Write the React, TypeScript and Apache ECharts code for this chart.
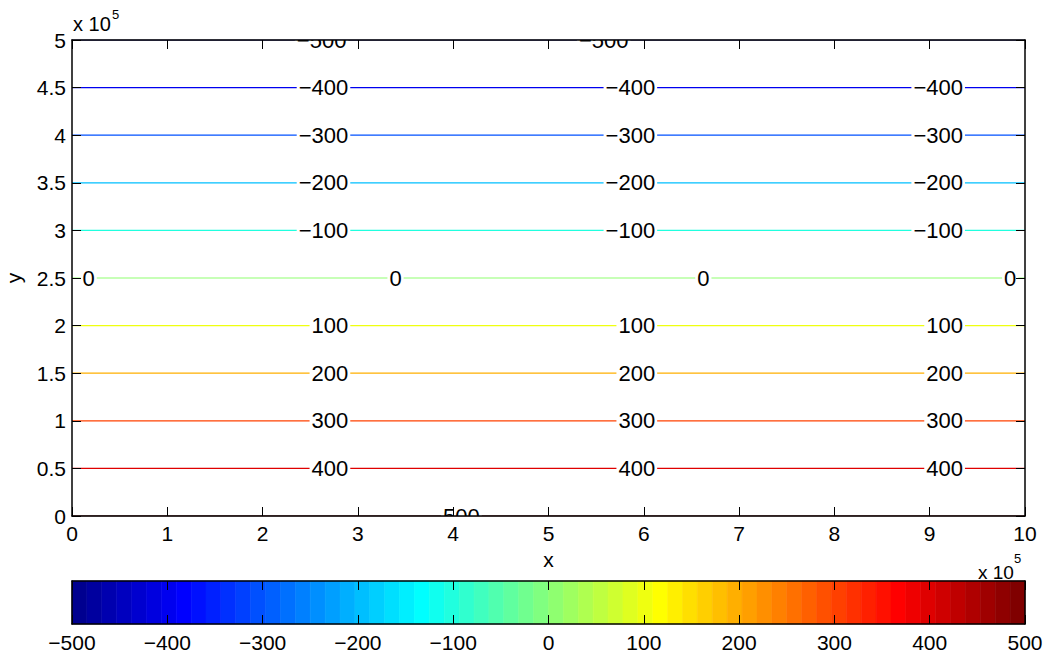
import React, { useEffect, useRef } from "react";
import * as echarts from "echarts";

// ---- data ----
// contour levels and the y position (x 1e5) where each level's line lies
const contourLevels = [500, 400, 300, 200, 100, 0, -100, -200, -300, -400, -500];
const contourY = [0, 0.5, 1, 1.5, 2, 2.5, 3, 3.5, 4, 4.5, 5];
// inline labels: level and x position of the label's right edge (x 1e5)
const labelLevel = [
  -500, -500,
  -400, -400, -400,
  -300, -300, -300,
  -200, -200, -200,
  -100, -100, -100,
  0, 0, 0, 0,
  100, 100, 100,
  200, 200, 200,
  300, 300, 300,
  400, 400, 400,
  500,
];
const labelX = [
  2.9, 5.86,
  2.92, 6.14, 9.37,
  2.92, 6.14, 9.37,
  2.92, 6.14, 9.37,
  2.92, 6.14, 9.37,
  0.26, 3.48, 6.71, 9.93,
  2.92, 6.14, 9.37,
  2.92, 6.14, 9.37,
  2.92, 6.14, 9.37,
  2.92, 6.14, 9.37,
  4.3,
];
const xTicks = [0, 10]; // x range, x 1e5
const yTicks = [0, 5]; // y range, x 1e5
const cbarRange = [-500, 500];
const cbarSteps = 64;

const FONT = "'Liberation Sans', Arial, Helvetica, sans-serif";

function matlabJet(m: number): number[][] {
  const n = Math.ceil(m / 4);
  const u: number[] = [];
  for (let i = 1; i <= n; i++) u.push(i / n);
  for (let i = 1; i <= n - 1; i++) u.push(1);
  for (let i = n; i >= 1; i--) u.push(i / n);
  const gStart = Math.ceil(n / 2) - (m % 4 === 1 ? 1 : 0);
  const J = Array.from({ length: m }, () => [0, 0, 0]);
  for (let k = 0; k < u.length; k++) {
    const g = gStart + k + 1;
    const r = g + n;
    const b = g - n;
    if (r >= 1 && r <= m) J[r - 1][0] = u[k];
    if (g >= 1 && g <= m) J[g - 1][1] = u[k];
    if (b >= 1 && b <= m) J[b - 1][2] = u[k];
  }
  return J;
}
const JET = matlabJet(cbarSteps);
const jetColor = (i: number) => {
  const c = JET[Math.max(0, Math.min(cbarSteps - 1, i))];
  return `rgb(${Math.round(c[0] * 255)},${Math.round(c[1] * 255)},${Math.round(c[2] * 255)})`;
};
const levelColor = (v: number) =>
  jetColor(Math.floor(((v - cbarRange[0]) / (cbarRange[1] - cbarRange[0])) * cbarSteps));
const fmtNum = (v: number) => (v < 0 ? "\u2212" + String(-v) : String(v));

export default function App() {
  const ref = useRef<HTMLDivElement>(null);
  useEffect(() => {
    if (!ref.current) return;
    const chart = echarts.init(ref.current, undefined, { renderer: "svg" });
    const axisLine = { show: true, onZero: false, lineStyle: { color: "#000", width: 1.5 } };
    const tick = { show: true, inside: true, length: 9, lineStyle: { color: "#000", width: 1 } };
    const lbl = { color: "#000", fontSize: 21, fontFamily: FONT };

    const contourSeries = contourLevels.map((lv, i) => ({
      type: "line",
      xAxisIndex: 0,
      yAxisIndex: 0,
      data: [
        [xTicks[0] * 1e5, contourY[i] * 1e5],
        [xTicks[1] * 1e5, contourY[i] * 1e5],
      ],
      symbol: "none",
      silent: true,
      lineStyle: { color: levelColor(lv), width: 1.2 },
      z: 2,
    }));

    const labelData = labelLevel.map((lv, i) => [
      labelX[i] * 1e5,
      contourY[contourLevels.indexOf(lv)] * 1e5,
      lv,
    ]);

    const cbarData = Array.from({ length: cbarSteps }, (_, i) => [
      cbarRange[0] + (i * (cbarRange[1] - cbarRange[0])) / cbarSteps,
      cbarRange[0] + ((i + 1) * (cbarRange[1] - cbarRange[0])) / cbarSteps,
      i,
    ]);

    chart.setOption({
      animation: false,
      backgroundColor: "#fff",
      grid: [
        { left: 72, top: 40, width: 953, height: 476, containLabel: false, outerBoundsMode: "none" },
        { left: 72, top: 581, width: 953, height: 43, containLabel: false, outerBoundsMode: "none" },
      ],
      xAxis: [
        {
          gridIndex: 0, type: "value", min: xTicks[0] * 1e5, max: xTicks[1] * 1e5, interval: 1e5,
          position: "bottom", z: 10, axisLine, axisTick: tick, splitLine: { show: false },
          axisLabel: { ...lbl, margin: 7, formatter: (v: number) => String(Math.round(v / 1e4) / 10) },
          name: "x", nameLocation: "middle", nameGap: 33,
          nameTextStyle: { color: "#000", fontSize: 21, fontFamily: FONT },
        },
        {
          gridIndex: 0, type: "value", min: xTicks[0] * 1e5, max: xTicks[1] * 1e5, interval: 1e5,
          position: "top", z: 10, axisLine, axisTick: tick, splitLine: { show: false },
          axisLabel: { show: false },
        },
        {
          gridIndex: 1, type: "value", min: cbarRange[0], max: cbarRange[1], interval: 100,
          position: "bottom", z: 10, axisLine, axisTick: tick, splitLine: { show: false },
          axisLabel: { ...lbl, margin: 8, formatter: (v: number) => fmtNum(v) },
        },
        {
          gridIndex: 1, type: "value", min: cbarRange[0], max: cbarRange[1], interval: 100,
          position: "top", z: 10, axisLine, axisTick: tick, splitLine: { show: false },
          axisLabel: { show: false },
        },
      ],
      yAxis: [
        {
          gridIndex: 0, type: "value", min: yTicks[0] * 1e5, max: yTicks[1] * 1e5, interval: 5e4,
          position: "left", z: 10, axisLine, axisTick: tick, splitLine: { show: false },
          axisLabel: { ...lbl, margin: 6, formatter: (v: number) => String(Math.round(v / 1e4) / 10) },
          name: "y", nameLocation: "middle", nameGap: 48,
          nameTextStyle: { color: "#000", fontSize: 21, fontFamily: FONT },
        },
        {
          gridIndex: 0, type: "value", min: yTicks[0] * 1e5, max: yTicks[1] * 1e5, interval: 5e4,
          position: "right", z: 10, axisLine, axisTick: tick, splitLine: { show: false },
          axisLabel: { show: false },
        },
        {
          gridIndex: 1, type: "value", min: 0, max: 1, position: "left", z: 10,
          axisLine, axisTick: { show: false }, axisLabel: { show: false }, splitLine: { show: false },
        },
        {
          gridIndex: 1, type: "value", min: 0, max: 1, position: "right", z: 10,
          axisLine, axisTick: { show: false }, axisLabel: { show: false }, splitLine: { show: false },
        },
      ],
      series: [
        ...contourSeries,
        {
          type: "custom",
          xAxisIndex: 0,
          yAxisIndex: 0,
          clip: true,
          silent: true,
          z: 3,
          data: labelData,
          renderItem: (params: any, api: any) => {
            const p = api.coord([api.value(0), api.value(1)]);
            const lv = labelLevel[params.dataIndex];
            const cs = params.coordSys;
            return {
              type: "group",
              clipPath: {
                type: "rect",
                shape: { x: cs.x, y: cs.y, width: cs.width, height: cs.height },
              },
              children: [
                {
                  type: "text",
                  x: p[0],
                  y: p[1],
                  style: {
                    text: fmtNum(lv),
                    fill: "#000",
                    fontSize: 22,
                    fontFamily: FONT,
                    align: "right",
                    verticalAlign: "middle",
                    backgroundColor: "#fff",
                    padding: [0, 2, 0, 2],
                  },
                },
              ],
            };
          },
        },
        {
          type: "custom",
          xAxisIndex: 2,
          yAxisIndex: 2,
          silent: true,
          z: 2,
          data: cbarData,
          renderItem: (params: any, api: any) => {
            const p0 = api.coord([api.value(0), 1]);
            const p1 = api.coord([api.value(1), 0]);
            const col = jetColor(api.value(2));
            return {
              type: "rect",
              shape: { x: p0[0], y: p0[1], width: p1[0] - p0[0], height: p1[1] - p0[1] },
              style: { fill: col, stroke: col, lineWidth: 0.6 },
            };
          },
        },
      ],
      graphic: [
        { type: "text", left: 73, top: 14, style: { text: "x 10", fill: "#000", fontSize: 20, fontFamily: FONT } },
        { type: "text", left: 112, top: 8, style: { text: "5", fill: "#000", fontSize: 13, fontFamily: FONT } },
        { type: "text", left: 978, top: 563, style: { text: "x 10", fill: "#000", fontSize: 19, fontFamily: FONT } },
        { type: "text", left: 1014, top: 552, style: { text: "5", fill: "#000", fontSize: 13, fontFamily: FONT } },
      ],
    });
    return () => chart.dispose();
  }, []);
  return (
    <div
      ref={ref}
      style={{ position: "absolute", left: 0, top: 0, width: 1047, height: 657, background: "#fff" }}
    />
  );
}
